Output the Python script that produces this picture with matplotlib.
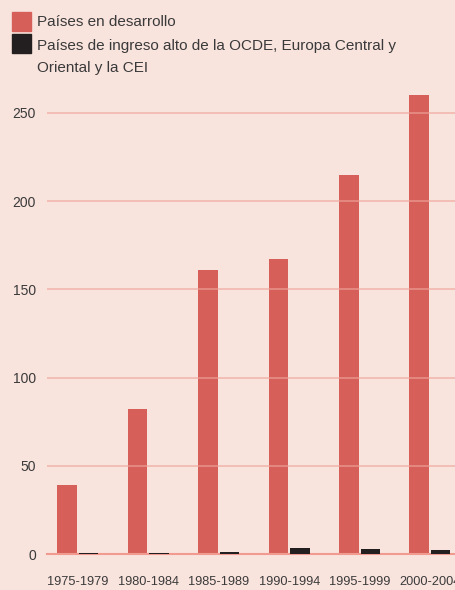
import matplotlib.pyplot as plt
from matplotlib.patches import Rectangle

# Datos
periodos = ["1975-1979", "1980-1984", "1985-1989", "1990-1994", "1995-1999", "2000-2004"]
en_desarrollo = [39, 82, 161, 167, 215, 260]
ingreso_alto = [0.6, 0.6, 1.2, 3.5, 3, 2]

etiqueta_desarrollo = "Países en desarrollo"
etiqueta_alto = ["Países de ingreso alto de la OCDE, Europa Central y",
                 "Oriental y la CEI"]

fondo = "#F9E3DD"
rojo = "#D65F59"
negro = "#231F20"
rejilla = "#EFA49B"
texto = "#3A3A3A"

plt.rcParams['font.family'] = ['Liberation Sans Narrow', 'Liberation Sans', 'DejaVu Sans']

fig = plt.figure(figsize=(4.56, 5.90), dpi=100, facecolor=fondo)
W, H = 456, 590
ax = fig.add_axes([47 / W, 1 - 554 / H, 1 - 47 / W, (554 - 77.7) / H])
ax.set_facecolor(fondo)

x = list(range(len(periodos)))
ancho = 0.277
ax.bar([i - 0.153 for i in x], en_desarrollo, width=ancho, color=rojo, zorder=2)
ax.bar([i + 0.153 for i in x], ingreso_alto, width=ancho, color=negro, zorder=4)

ax.set_xlim(-0.44, 5.37)
ax.set_ylim(0, 270)
ax.set_yticks([0, 50, 100, 150, 200, 250])
for v in [50, 100, 150, 200, 250]:
    ax.axhline(v, color=rejilla, lw=1.2, alpha=0.7, zorder=3)
ax.axhline(0, color="#F09A90", lw=1.5, zorder=3, clip_on=False)

for s in ax.spines.values():
    s.set_visible(False)
ax.tick_params(axis='both', length=0, colors=texto)
ax.tick_params(axis='y', pad=8, labelsize=10)
ax.tick_params(axis='x', pad=16, labelsize=9.2)
ax.set_xticks(x)
ax.set_xticklabels(periodos)

# Leyenda
fig.patches.append(Rectangle((12 / W, 1 - 31 / H), 19 / W, 19 / H, transform=fig.transFigure,
                             color=rojo))
fig.patches.append(Rectangle((12 / W, 1 - 53 / H), 19 / W, 19 / H, transform=fig.transFigure,
                             color=negro))
fig.text(37 / W, 1 - 22 / H, etiqueta_desarrollo, fontsize=11, color=texto, va='center')
fig.text(37 / W, 1 - 46 / H, etiqueta_alto[0], fontsize=11, color=texto, va='center')
fig.text(37 / W, 1 - 68 / H, etiqueta_alto[1], fontsize=11, color=texto, va='center')

fig.savefig("out.png", dpi=100, facecolor=fondo)
